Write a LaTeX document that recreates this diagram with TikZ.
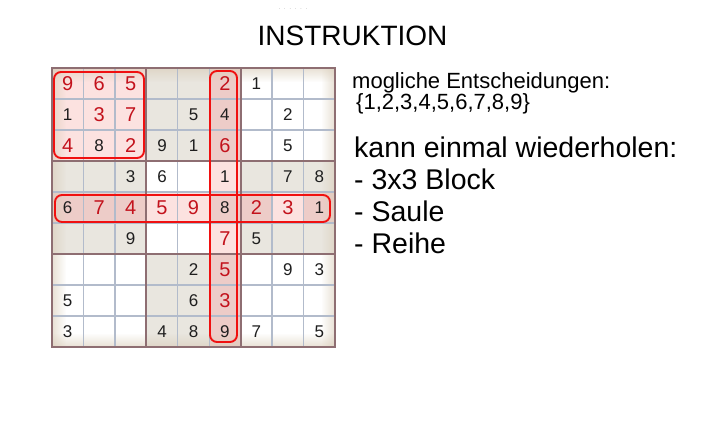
\documentclass[tikz,border=0pt]{standalone}
\usepackage{fontspec}
\setmainfont{Liberation Sans}
\usetikzlibrary{fadings}
\tikzfading[name=fadeR, left color=transparent!0, right color=transparent!100]
\tikzfading[name=fadeL, left color=transparent!100, right color=transparent!0]
\tikzfading[name=fadeD, top color=transparent!0, bottom color=transparent!100]
\tikzfading[name=fadeU, top color=transparent!100, bottom color=transparent!0]
\definecolor{beigecell}{HTML}{E9E6DF}
\definecolor{lightpink}{HTML}{FCE2E0}
\definecolor{darkpink}{HTML}{EDCCC8}
\definecolor{vig}{HTML}{D9CCB8}
\definecolor{gridthin}{HTML}{B2BBCB}
\definecolor{gridthick}{HTML}{8E6E72}
\definecolor{reddigit}{HTML}{C3121C}
\definecolor{hlred}{HTML}{F01010}
\definecolor{blackdigit}{HTML}{1E1E1E}
\begin{document}
\begin{tikzpicture}[x=1pt,y=-1pt,
  blackd/.style={text=blackdigit,font=\fontsize{17}{17}\selectfont,inner sep=0pt},
  redd/.style={text=reddigit,font=\fontsize{20}{20}\selectfont,inner sep=0pt},
  hlframe/.style={draw=hlred,line width=1.9pt,rounded corners=7pt},
  gthin/.style={draw=gridthin,line width=1.4pt},
  gthick/.style={draw=gridthick,line width=2pt},
  vigstrip/.style={fill=vig,fill opacity=0.6},
  txt/.style={anchor=base west,inner sep=0pt,text=black}]
\useasboundingbox (0,0) rectangle (702,421);
\def\cw{31.444}
\def\ch{31}
% base cells
\foreach \r in {1,...,9}{\foreach \c in {1,...,9}{
  \pgfmathtruncatemacro\br{(\r-1)/3}
  \pgfmathtruncatemacro\bc{(\c-1)/3}
  \pgfmathtruncatemacro\isb{mod(\br+\bc,2)}
  \ifnum\isb=1 \def\cellcol{beigecell}\else\def\cellcol{white}\fi
  \fill[\cellcol] ({52+(\c-1)*\cw},{68+(\r-1)*\ch}) rectangle ++(\cw,\ch);
}}
% highlighted cells
\foreach \r/\c in {1/1,1/2,1/3,2/1,2/2,2/3,3/1,3/2,3/3,4/6,6/6,5/4,5/5,5/8}
  \fill[lightpink] ({52+(\c-1)*\cw},{68+(\r-1)*\ch}) rectangle ++(\cw,\ch);
\foreach \r/\c in {1/6,2/6,3/6,5/6,7/6,8/6,9/6,5/1,5/2,5/3,5/7,5/9}
  \fill[darkpink] ({52+(\c-1)*\cw},{68+(\r-1)*\ch}) rectangle ++(\cw,\ch);
% vignette
\fill[vigstrip, path fading=fadeR] (52,68) rectangle (66,347);
\fill[vigstrip, path fading=fadeL] (321,68) rectangle (335,347);
\fill[vigstrip, path fading=fadeD] (52,68) rectangle (335,82);
\fill[vigstrip, path fading=fadeU] (52,333) rectangle (335,347);
% grid lines
\foreach \i in {1,2,4,5,7,8}{
  \draw[gthin] ({52+\i*\cw},68) -- ({52+\i*\cw},347);
  \draw[gthin] (52,{68+\i*\ch}) -- (335,{68+\i*\ch});
}
\foreach \i in {3,6}{
  \draw[gthick] ({52+\i*\cw},68) -- ({52+\i*\cw},347);
  \draw[gthick] (52,{68+\i*\ch}) -- (335,{68+\i*\ch});
}
\draw[gthick] (52,68) rectangle (335,347);
% highlight frames
\draw[hlframe] (54,72) rectangle (144,158);
\draw[hlframe] (55,195) rectangle (330,222);
\draw[hlframe] (210,71) rectangle (237,342);
% digits
\foreach \r/\c/\v in {2/1/1,3/2/8,1/7/1,2/5/5,2/6/4,2/8/2,3/4/9,3/5/1,3/8/5,4/3/3,4/4/6,4/6/1,4/8/7,4/9/8,5/1/6,5/6/8,5/9/1,6/3/9,6/7/5,7/5/2,7/8/9,7/9/3,8/1/5,8/5/6,9/1/3,9/4/4,9/5/8,9/6/9,9/7/7,9/9/5}
  \node[blackd] (d\r\c) at ({52+(\c-0.5)*\cw},{68+(\r-0.5)*\ch}) {\v};
\foreach \r/\c/\v in {1/1/9,1/2/6,1/3/5,2/2/3,2/3/7,3/1/4,3/3/2,1/6/2,3/6/6,6/6/7,7/6/5,8/6/3,5/2/7,5/3/4,5/4/5,5/5/9,5/7/2,5/8/3}
  \node[redd] (d\r\c) at ({52+(\c-0.5)*\cw},{68+(\r-0.5)*\ch}) {\v};
% texts
\node[text=gray, inner sep=0pt, font=\fontsize{5}{5}\selectfont] (tiny) at (293,9) {.\hspace{4pt}.\hspace{4pt}.\hspace{4pt}.\hspace{4pt}.\hspace{4pt}.};
\node[anchor=base, inner sep=0pt, font=\fontsize{28}{28}\selectfont] (title) at (352.5,45) {INSTRUKTION};
\node[txt, font=\fontsize{22}{22}\selectfont] (t1) at (352,88) {mogliche Entscheidungen:};
\node[txt, font=\fontsize{22}{22}\selectfont] (t2) at (356,109) {\{1,2,3,4,5,6,7,8,9\}};
\node[txt, font=\fontsize{28.5}{28.5}\selectfont] (t3) at (354,157) {kann einmal wiederholen:};
\node[txt, font=\fontsize{28.5}{28.5}\selectfont] (t4) at (354,189) {- 3x3 Block};
\node[txt, font=\fontsize{28.5}{28.5}\selectfont] (t5) at (354,221) {- Saule};
\node[txt, font=\fontsize{28.5}{28.5}\selectfont] (t6) at (354,253) {- Reihe};
\end{tikzpicture}
\end{document}
